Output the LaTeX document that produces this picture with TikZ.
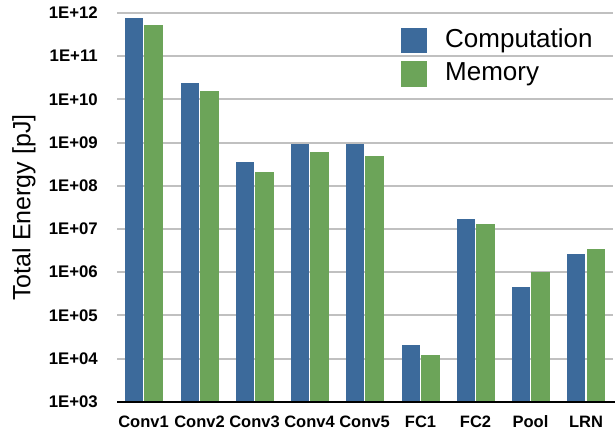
\documentclass[tikz,border=0pt]{standalone}
\usepackage{fontspec}
\setmainfont{Liberation Sans}
\definecolor{cblue}{RGB}{60,106,155}
\definecolor{cgreen}{RGB}{108,164,89}
\definecolor{cgrid}{RGB}{192,192,192}
\begin{document}
\begin{tikzpicture}[x=1pt,y=-1pt,
  gridline/.style={draw=cgrid,line width=2pt},
  axisline/.style={draw=black,line width=2pt},
  ticklab/.style={anchor=east,inner sep=0pt,font=\fontsize{16.8}{16.8}\selectfont\bfseries},
  catlab/.style={anchor=center,inner sep=0pt,font=\fontsize{16.5}{16.5}\selectfont\bfseries},
  legtext/.style={anchor=west,inner sep=0pt,font=\fontsize{26}{26}\selectfont},
  titlelab/.style={rotate=90,inner sep=0pt,font=\fontsize{25}{25}\selectfont},
  compbar/.style={fill=cblue},
  membar/.style={fill=cgreen}]
\useasboundingbox (0,0) rectangle (616,433);
% gridlines and tick labels
\foreach \i/\lab in {0/12,1/11,2/10,3/09,4/08,5/07,6/06,7/05,8/04}{
  \draw[gridline] (117,{13+43.2*\i}) -- (613,{13+43.2*\i});
  \node[ticklab] (tick\i) at (98,{13+43.2*\i}) {1E+\lab};
}
\node[ticklab] (tick9) at (98,401.8) {1E+03};
% bars
\foreach \c/\b/\g/\nm in {143.5/18/25/Conv1,199.5/83/91/Conv2,254.5/162/172/Conv3,
  309.5/144/152/Conv4,364.5/144/156/Conv5,420.5/345/355/FC1,475.5/219/224/FC2,
  530.5/287/272/Pool,586/254/249/LRN}{
  \fill[compbar] ({\c-19},\b) rectangle ({\c-0.75},401.8);
  \fill[membar] ({\c+0.75},\g) rectangle ({\c+19},401.8);
  \node[catlab] (cat\nm) at (\c,422) {\nm};
}
\draw[axisline] (117,401.8) -- (615,401.8);
% axis title
\node[titlelab] (ytitle) at (24,207.5) {Total Energy [pJ]};
% legend
\fill[compbar] (401,28) rectangle (427,53);
\fill[membar] (401,61) rectangle (427,87);
\node[legtext] (legcomp) at (445,40.5) {Computation};
\node[legtext] (legmem) at (445,74) {Memory};
\end{tikzpicture}
\end{document}
